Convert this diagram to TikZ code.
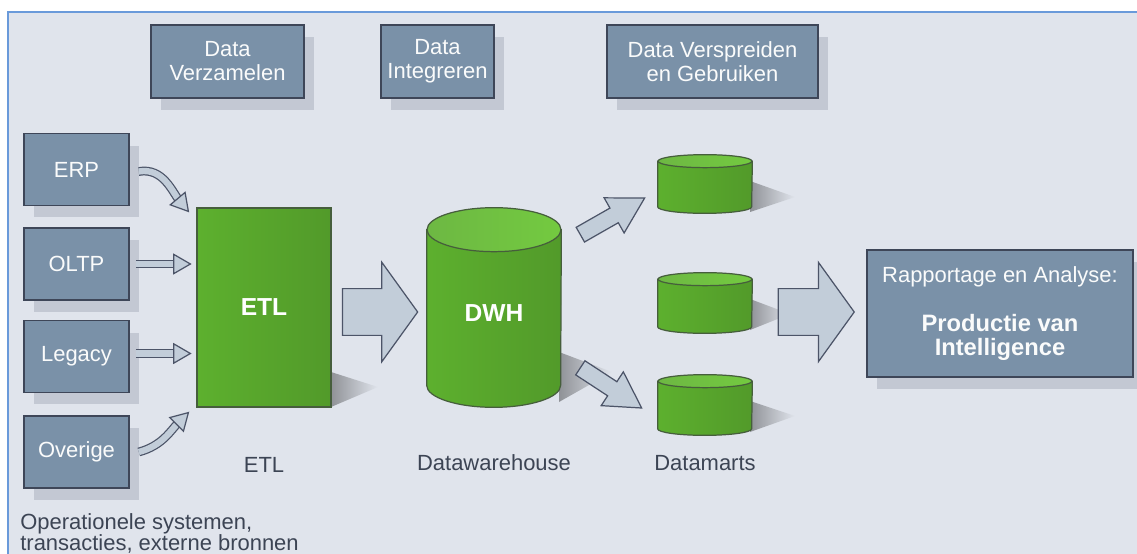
\documentclass[tikz,border=0pt]{standalone}
\usepackage{fontspec}
\setmainfont{Liberation Sans}
\usetikzlibrary{calc,shadows,decorations.markings}

\definecolor{bg}{HTML}{E0E4EC}
\definecolor{framecol}{HTML}{6A9ADA}
\definecolor{boxfill}{HTML}{7A91A8}
\definecolor{boxline}{HTML}{3E4658}
\definecolor{shadowgrey}{HTML}{C3C8D3}
\definecolor{arrowfill}{HTML}{C2CDD9}
\definecolor{arrowline}{HTML}{4C5468}
\definecolor{greenlight}{HTML}{6CC736}
\definecolor{greenmid}{HTML}{5DB02E}
\definecolor{greendark}{HTML}{529A2A}
\definecolor{greenline}{HTML}{465E3C}
\definecolor{labeltext}{HTML}{3C4454}

\tikzset{
    stage/.style={draw=boxline, line width=0.9pt, fill=boxfill, text=white!96!boxfill,
        align=center, inner sep=0pt, minimum height=1.46cm,
        font=\fontsize{12.5}{13.6}\selectfont,
        drop shadow={shadow xshift=0.2cm, shadow yshift=-0.24cm, fill=shadowgrey, opacity=1}},
    source/.style={stage, minimum width=2.1cm, minimum height=1.44cm},
    greenbox/.style={draw=greenline, line width=0.7pt, left color=greenmid, middle color=greenlight,
        right color=greendark, text=white, font=\fontsize{14}{14}\selectfont\bfseries},
    drumbody/.style={draw=greenline, line width=0.7pt, left color=greenmid, middle color=greenlight,
        right color=greendark},
    drumtop/.style={draw=greenline, line width=0.7pt, left color=greenmid!90!white,
        right color=greenlight!95!white},
    holder/.style={inner sep=0pt},
    caption/.style={text=labeltext, font=\fontsize{12.5}{12}\selectfont},
    bulk/.style={draw=arrowline, fill=arrowfill, line width=0.7pt, line join=miter},
    fade/.style={left color=black!36!bg, right color=bg},
    feed/.style={draw=arrowline, double=arrowfill, double distance=3.6pt, line width=0.7pt,
        shorten >=8pt,
        postaction={decorate, decoration={markings, mark=at position 1 with
            {\draw[arrowline, fill=arrowfill, line width=0.7pt, shorten >=0pt]
                (0,0) -- (-9.5pt,5.5pt) -- (-9.5pt,-5.5pt) -- cycle;}}}}
}

% fat arrow: tail, tip, half body, half head, head length
\newcommand{\fatarrow}[5]{%
    \coordinate (neck) at ($(#2)!#5!(#1)$);
    \draw[bulk] ($(#1)!#3!90:(#2)$) -- ($(neck)!#3!90:(#2)$) -- ($(neck)!#4!90:(#2)$)
        -- (#2) -- ($(neck)!#4!-90:(#2)$) -- ($(neck)!#3!-90:(#2)$)
        -- ($(#1)!#3!-90:(#2)$) -- cycle;
}

% cylinder over a holder node: node, x radius, y radius
\newcommand{\drum}[3]{%
    \path[drumbody] ($(#1.north west)+(0,-#3)$) -- ($(#1.south west)+(0,#3)$)
        arc[start angle=180, end angle=360, x radius=#2, y radius=#3]
        -- ($(#1.north east)+(0,-#3)$) -- cycle;
    \path[drumtop] ($(#1.north)+(0,-#3)$) ellipse[x radius=#2, y radius=#3];
}

\begin{document}
\begin{tikzpicture}[x=0.02cm, y=-0.02cm]
    \useasboundingbox (0,0) rectangle (1137,554);
    \fill[white] (0,0) rectangle (1137,554);
    \fill[bg] (8,12) rectangle (1137,554);
    \draw[framecol, line width=1pt] (8,554) -- (8,12) -- (1137,12);

    % fasen
    \node[stage, minimum width=3.06cm] (verzamelen) at (227.5,61.5) {Data\\Verzamelen};
    \node[stage, minimum width=2.26cm] (integreren) at (437.5,61.5) {Data\\Integreren};
    \node[stage, minimum width=4.22cm] (verspreiden) at (712.5,61.5) {Data Verspreiden\\en Gebruiken};

    % bronnen
    \node[source] (erp) at (76.5,169.5) {ERP};
    \node[source] (oltp) at (76.5,264) {OLTP};
    \node[source] (legacy) at (76.5,356.5) {Legacy};
    \node[source] (overige) at (76.5,452) {Overige};

    % schaduwen
    \shade[fade] (331,372) -- (378,387) -- (331,407) -- cycle;
    \shade[fade] (559,352) -- (612,372) -- (559,402) -- cycle;
    \shade[fade] (750,181) -- (795,197) -- (750,212) -- cycle;
    \shade[fade] (750,299) -- (790,314) -- (750,330) -- cycle;
    \shade[fade] (750,401) -- (795,416) -- (750,432) -- cycle;

    % ETL en DWH
    \node[greenbox, minimum width=2.68cm, minimum height=3.98cm] (etl) at (264,307.5) {ETL};
    \node[holder, minimum width=2.68cm, minimum height=3.98cm] (dwh) at (494,307.5) {};
    \drum{dwh}{1.34cm}{0.44cm}
    \node[text=white, font=\fontsize{14}{14}\selectfont\bfseries] (dwhtxt) at (494,313) {DWH};

    % datamarts
    \node[holder, minimum width=1.88cm, minimum height=1.16cm] (mart1) at (705,184) {};
    \node[holder, minimum width=1.88cm, minimum height=1.2cm] (mart2) at (705,303) {};
    \node[holder, minimum width=1.88cm, minimum height=1.2cm] (mart3) at (705,405) {};
    \drum{mart1}{0.94cm}{0.13cm}
    \drum{mart2}{0.94cm}{0.13cm}
    \drum{mart3}{0.94cm}{0.13cm}

    % rapportage
    \node[stage, minimum width=5.32cm, minimum height=2.54cm,
        drop shadow={shadow xshift=0.22cm, shadow yshift=-0.24cm, fill=shadowgrey, opacity=1}]
        (rapport) at (1000,313.5)
        {Rapportage en Analyse:\\[14pt]{\fontsize{13.5}{13}\selectfont\bfseries Productie van}\\
         {\fontsize{13.5}{13}\selectfont\bfseries Intelligence}};

    % toevoer
    \draw[feed] ($(erp.east)+(9,2)$) to[out=10, in=130] ($(etl.north west)+(-8,4)$);
    \draw[feed] ($(oltp.east)+(6,0)$) -- ($(oltp.east -| etl.west)+(-6,0)$);
    \draw[feed] ($(legacy.east)+(6,-3)$) -- ($(legacy.east -| etl.west)+(-6,-3)$);
    \draw[feed] ($(overige.east)+(9,0)$) to[out=15, in=-135] ($(etl.south west)+(-8,5)$);

    % grote pijlen
    \coordinate (etlout) at ($(etl.east)+(11,4.5)$);
    \coordinate (dwhin) at ($(dwh.west)+(-9,4.5)$);
    \fatarrow{etlout}{dwhin}{13.3pt}{28.3pt}{20.4pt}
    \coordinate (dwhup) at ($(dwh.north east)+(19,27)$);
    \coordinate (mart1in) at ($(mart1.west)+(-13,14)$);
    \fatarrow{dwhup}{mart1in}{4.8pt}{11.5pt}{20pt}
    \coordinate (dwhdown) at ($(dwh.south east)+(19,-39.5)$);
    \coordinate (mart3in) at ($(mart3.west)+(-16,3)$);
    \fatarrow{dwhdown}{mart3in}{4.8pt}{11.5pt}{20pt}
    \coordinate (martout) at ($(mart2.east)+(26,9)$);
    \coordinate (rapportin) at ($(rapport.west)+(-12,-1.5)$);
    \fatarrow{martout}{rapportin}{13.3pt}{28.3pt}{20.4pt}

    % bijschriften
    \node[caption] (etlcap) at (264,465) {ETL};
    \node[caption] (dwhcap) at (494,463) {Datawarehouse};
    \node[caption] (martcap) at (705,463) {Datamarts};
    \node[caption, anchor=north west, align=left, inner sep=0pt] (bronnen) at (20,513)
        {Operationele systemen,\\transacties, externe bronnen};
\end{tikzpicture}
\end{document}
